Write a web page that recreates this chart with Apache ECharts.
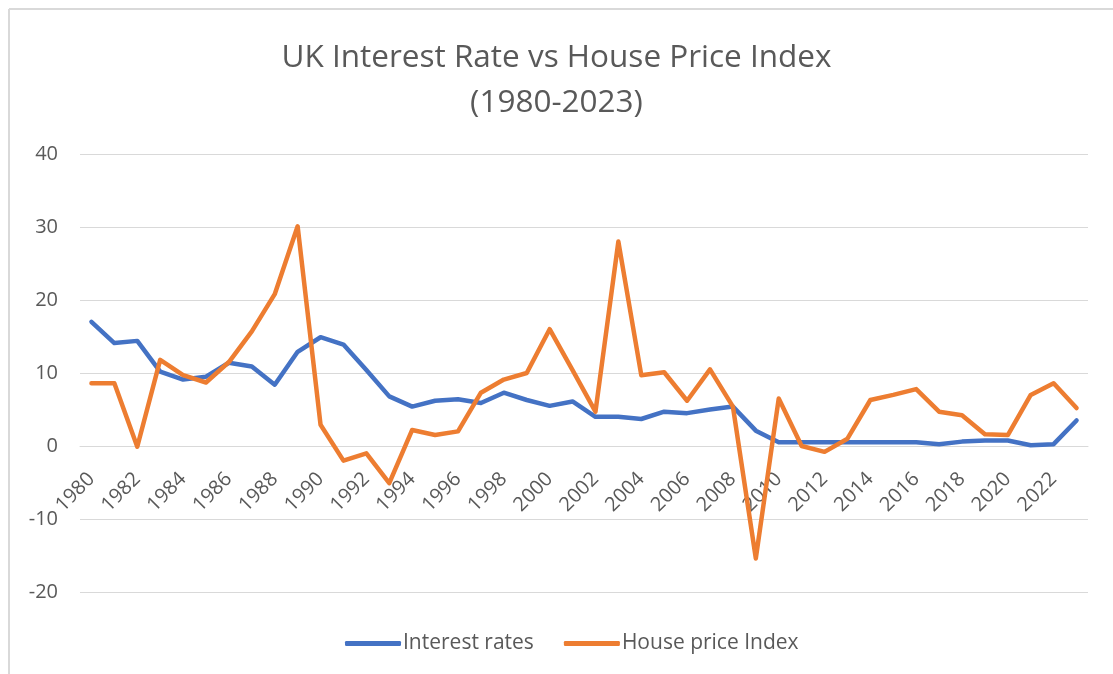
<!DOCTYPE html>
<html>
<head>
<meta charset="utf-8">
<title>UK Interest Rate vs House Price Index</title>
<script src="https://cdn.jsdelivr.net/npm/echarts@6/dist/echarts.min.js"></script>
<style>
  html, body { margin: 0; padding: 0; background: #ffffff; }
  #chart { width: 1113px; height: 674px; }
</style>
</head>
<body>
<div id="chart"></div>
<script>
const years = [
  "1980", "1981", "1982", "1983", "1984", "1985", "1986", "1987", "1988", "1989",
  "1990", "1991", "1992", "1993", "1994", "1995", "1996", "1997", "1998", "1999",
  "2000", "2001", "2002", "2003", "2004", "2005", "2006", "2007", "2008", "2009",
  "2010", "2011", "2012", "2013", "2014", "2015", "2016", "2017", "2018", "2019",
  "2020", "2021", "2022", "2023"
];

const interestRates = [
  17.0, 14.1, 14.4, 10.2, 9.1, 9.5, 11.4, 10.9, 8.4, 12.9,
  14.9, 13.9, 10.4, 6.8, 5.4, 6.2, 6.4, 5.9, 7.3, 6.3,
  5.5, 6.1, 4.0, 4.0, 3.7, 4.7, 4.5, 5.0, 5.4, 2.1,
  0.5, 0.5, 0.5, 0.5, 0.5, 0.5, 0.5, 0.25, 0.6, 0.75,
  0.75, 0.1, 0.25, 3.5
];

const housePriceIndex = [
  8.6, 8.6, -0.1, 11.8, 9.7, 8.7, 11.5, 15.7, 20.8, 30.1,
  2.9, -2.0, -1.0, -5.1, 2.2, 1.5, 2.0, 7.3, 9.1, 10.0,
  16.0, 10.4, 4.7, 28.0, 9.7, 10.1, 6.2, 10.5, 5.4, -15.4,
  6.5, 0.0, -0.8, 1.0, 6.3, 7.0, 7.8, 4.7, 4.2, 1.6,
  1.5, 7.0, 8.6, 5.2
];

const rateColor = "#4472C4";
const hpiColor = "#ED7D31";
const textColor = "#595959";
const fontFamily = "'Open Sans', 'Noto Sans', sans-serif";

const yMin = -20;
const yMax = 40;
const gridTop = 154;
const gridBottom = 82;
const plotHeight = 674 - gridTop - gridBottom;

const chart = echarts.init(document.getElementById("chart"), null, { renderer: "canvas" });

chart.setOption({
  animation: false,
  backgroundColor: "#ffffff",
  title: {
    text: "UK Interest Rate vs House Price Index\n(1980-2023)",
    left: "center",
    top: 31,
    textStyle: {
      color: textColor,
      fontFamily: fontFamily,
      fontSize: 31.5,
      fontWeight: "normal",
      lineHeight: 45
    }
  },
  graphic: [
    {
      type: "line",
      shape: { x1: 9, y1: 9, x2: 1113, y2: 9 },
      style: { stroke: "#d9d9d9", lineWidth: 2 }
    },
    {
      type: "line",
      shape: { x1: 9, y1: 9, x2: 9, y2: 674 },
      style: { stroke: "#d9d9d9", lineWidth: 2 }
    }
  ],
  grid: { left: 80, right: 25, top: gridTop, bottom: gridBottom, containLabel: false },
  legend: {
    bottom: 15,
    left: 340,
    icon: "roundRect",
    itemWidth: 56,
    itemHeight: 5,
    itemGap: 30,
    textStyle: { color: textColor, fontFamily: fontFamily, fontSize: 21, padding: [0, 0, 0, -3] },
    data: ["Interest rates", "House price Index"]
  },
  xAxis: {
    type: "category",
    boundaryGap: true,
    data: years,
    // Excel puts the category labels on the zero line
    offset: -plotHeight * (0 - yMin) / (yMax - yMin),
    axisLine: { onZero: false, lineStyle: { color: "#d9d9d9", width: 1 } },
    axisTick: { show: false },
    axisLabel: {
      interval: 1,
      rotate: 45,
      margin: 30,
      color: textColor,
      fontFamily: fontFamily,
      fontSize: 20
    }
  },
  yAxis: {
    type: "value",
    min: yMin,
    max: yMax,
    interval: 10,
    axisLine: { show: false },
    axisTick: { show: false },
    axisLabel: { color: textColor, fontFamily: fontFamily, fontSize: 20, margin: 22 },
    splitLine: { lineStyle: { color: "#d9d9d9", width: 1 } }
  },
  series: [
    {
      name: "Interest rates",
      type: "line",
      data: interestRates,
      symbol: "none",
      lineStyle: { color: rateColor, width: 4.5, cap: "round", join: "round" },
      itemStyle: { color: rateColor }
    },
    {
      name: "House price Index",
      type: "line",
      data: housePriceIndex,
      symbol: "none",
      lineStyle: { color: hpiColor, width: 4.5, cap: "round", join: "round" },
      itemStyle: { color: hpiColor }
    }
  ]
});
</script>
</body>
</html>
